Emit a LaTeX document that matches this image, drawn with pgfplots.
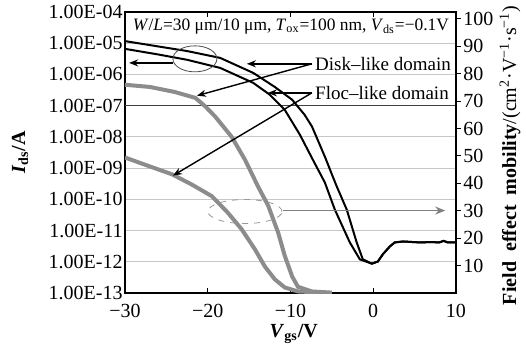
\documentclass[border=0pt]{standalone}
\usepackage{fontspec}
\setmainfont{Liberation Serif}
\usepackage{pgfplots}
\pgfplotsset{compat=1.18}
\usetikzlibrary{arrows.meta}
\definecolor{curvegray}{RGB}{140,140,140}
\begin{document}
\begin{tikzpicture}
\begin{axis}[
  scale only axis, width=165.5pt, height=140.5pt,
  xmin=-30, xmax=10, ymin=1e-13, ymax=1e-4, ymode=log,
  xtick={-30,-20,-10,0,10}, xticklabels={−30,−20,−10,0,10},
  ytick={1e-13,1e-12,1e-11,1e-10,1e-9,1e-8,1e-7,1e-6,1e-5,1e-4},
  yticklabels={1.00E-13,1.00E-12,1.00E-11,1.00E-10,1.00E-09,1.00E-08,1.00E-07,1.00E-06,1.00E-05,1.00E-04},
  yminorticks=false,
  tick align=inside, major tick length=2.5pt,
  ytick style={draw=none},
  ymajorgrids, grid style={black!22, line width=0.4pt},
  extra y ticks={1e-7}, extra y tick labels={},
  extra y tick style={grid style={black!75, line width=0.5pt}, major tick length=0pt},
  axis line style={line width=0.6pt},
  tick style={black, line width=0.5pt},
  ticklabel style={font=\fontsize{10}{12}\selectfont},
  yticklabel style={inner xsep=1pt},
  xticklabel style={yshift=-2pt},
  xlabel={\textbf{\textit{V}\textsubscript{gs}/V}},
  xlabel style={at={(axis description cs:0.51,-0.146)}, anchor=center, font=\fontsize{10}{12}\selectfont},
  ylabel={\textbf{\textit{I}\textsubscript{ds}/A}},
  ylabel style={at={(axis description cs:-0.317,0.5)}, anchor=center, rotate=0, font=\fontsize{10}{12}\selectfont},
]
% Disk-like, upper black curve
\addplot[black, line width=1pt] coordinates {
(-30,1.17e-5) (-26,7.9e-6) (-22.5,5.62e-6) (-18.5,3.39e-6) (-14.5,1.12e-6)
(-11.9,3.98e-7) (-9.8,1.55e-7) (-8.3,5.13e-8) (-7.4,2.14e-8) (-5.85,2.34e-9)
(-4.5,2.95e-10) (-3.2,4.68e-11) (-2.0,4.17e-12) (-1.26,1.20e-12) (-0.17,8.7e-13)
(0.56,1.02e-12) (1.16,1.74e-12) (2.0,3.09e-12) (2.6,4.17e-12) (3.6,4.47e-12)
(5.6,4.17e-12) (7.0,4.27e-12) (8.0,4.17e-12) (8.5,4.68e-12) (9.0,4.17e-12) (10,4.17e-12)
};
% Disk-like, lower black curve
\addplot[black, line width=1pt] coordinates {
(-30,6.6e-6) (-26,4.37e-6) (-22.5,2.95e-6) (-18.5,1.62e-6) (-14.5,5.37e-7)
(-12.5,2.24e-7) (-10.7,7.41e-8) (-8.86,1.17e-8) (-7.3,1.86e-9) (-5.85,3.47e-10)
(-4.64,4.68e-11) (-2.83,4.17e-12) (-1.62,1.20e-12) (-0.17,8.7e-13)
(0.56,1.02e-12) (1.16,1.74e-12) (2.0,3.09e-12) (2.6,4.17e-12) (3.6,4.47e-12)
(5.6,4.17e-12) (7.0,4.27e-12) (8.0,4.17e-12) (8.5,4.68e-12) (9.0,4.17e-12) (10,4.17e-12)
};
% Floc-like, upper gray curve
\addplot[curvegray, line width=2pt] coordinates {
(-30,4.68e-7) (-27,3.98e-7) (-24,2.75e-7) (-21.5,1.78e-7) (-20.3,9.5e-8) (-19.1,4.47e-8)
(-17.1,1.0e-8) (-15.5,1.86e-9) (-13.9,2.51e-10) (-12.7,6.31e-11) (-11.5,8.71e-12)
(-10.7,1.58e-12) (-9.8,3.39e-13) (-9.1,1.58e-13) (-7.4,1.12e-13) (-5,1.03e-13)
};
% Floc-like, lower gray curve
\addplot[curvegray, line width=2pt] coordinates {
(-30,2.19e-9) (-27.6,1.29e-9) (-24.3,6.31e-10) (-21.9,2.95e-10) (-19.5,1.26e-10)
(-17.6,3.80e-11) (-15.9,1.10e-11) (-14.3,2.51e-12) (-13.1,7.08e-13) (-11.9,2.75e-13)
(-10.7,1.51e-13) (-9.1,1.12e-13) (-6,1.03e-13)
};
% annotations
\node[anchor=west, inner sep=0pt, font=\fontsize{8.7}{10}\selectfont] at (axis cs:-29.1,3.31e-5)
  {\textit{W}/\textit{L}=30 μm/10 μm, \textit{T}\textsubscript{ox}=100 nm, \textit{V}\textsubscript{ds}=−0.1V};
\draw[black!70, line width=0.4pt] (axis cs:-21.55,3.16e-6) ellipse [x radius=11pt, y radius=6.5pt];
\draw[black, line width=0.7pt, -{Stealth[length=4.5pt,width=3.5pt]}] (axis cs:-24.2,2.34e-6) -- (axis cs:-29.5,2.34e-6);
\node[anchor=west, inner sep=1pt, font=\fontsize{9.5}{11}\selectfont] at (axis cs:-7.3,2.19e-6) {Disk--like domain};
\node[anchor=west, inner sep=1pt, font=\fontsize{9.5}{11}\selectfont] at (axis cs:-7.3,2.57e-7) {Floc--like domain};
\draw[black, line width=0.7pt, -{Stealth[length=4.5pt,width=3.5pt]}] (axis cs:-7.42,2.19e-6) -- (axis cs:-15.27,2.19e-6);
\draw[black, line width=0.7pt, -{Stealth[length=4.5pt,width=3.5pt]}] (axis cs:-7.42,2.19e-6) -- (axis cs:-21.3,2.09e-7);
\draw[black, line width=0.7pt, -{Stealth[length=4.5pt,width=3.5pt]}] (axis cs:-7.42,2.57e-7) -- (axis cs:-12.73,2.57e-7);
\draw[black, line width=0.7pt, -{Stealth[length=4.5pt,width=3.5pt]}] (axis cs:-7.42,2.57e-7) -- (axis cs:-24.2,5.75e-10);
\draw[black!40, line width=0.4pt, dashed] (axis cs:-15.5,4.07e-11) ellipse [x radius=18.5pt, y radius=6pt];
\draw[black!50, line width=0.7pt, -{Stealth[length=5pt,width=4pt]}] (axis cs:-10.9,4.37e-11) -- (axis cs:8.7,4.37e-11);
\end{axis}
\begin{axis}[
  scale only axis, width=165.5pt, height=140.5pt,
  xmin=-30, xmax=10, ymin=0, ymax=102.5,
  axis y line*=right, axis x line=none,
  ytick={10,20,30,40,50,60,70,80,90,100},
  tick align=outside, major tick length=2.5pt,
  axis line style={line width=0.6pt},
  tick style={black, line width=0.5pt},
  /pgf/number format/assume math mode=true,
  ticklabel style={font=\fontsize{10}{12}\selectfont},
  yticklabel style={inner xsep=1pt},
  ylabel={\textbf{Field\hspace{0.5em}effect\hspace{0.5em}mobility}/(cm\textsuperscript{2}·V\textsuperscript{−1}·s\textsuperscript{−1})},
  ylabel style={at={(axis description cs:1.163,0.49)}, anchor=center, rotate=0, font=\fontsize{10}{12}\selectfont},
]
\end{axis}
\pgfresetboundingbox
\path[use as bounding box] (-62.5pt,-27.5pt) rectangle (200.5pt,146.5pt);
\end{tikzpicture}
\end{document}
